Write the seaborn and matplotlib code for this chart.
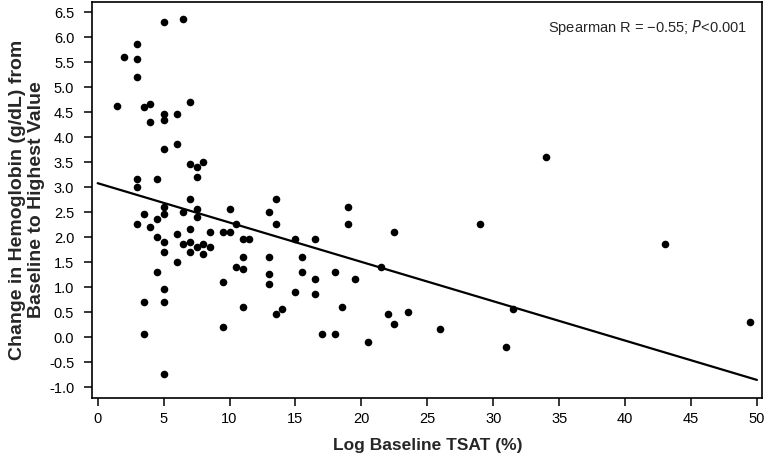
import numpy as np
import pandas as pd
import seaborn as sns
import matplotlib.pyplot as plt

# baseline TSAT (%)
tsat = [5.0, 6.5, 3.0, 2.0, 3.0, 3.0, 1.5, 3.5, 4.0, 7.0,
        5.0, 5.0, 6.0, 4.0, 5.0, 6.0, 7.0, 7.5, 8.0, 7.5,
        3.0, 3.0, 4.5, 7.0, 5.0, 3.5, 5.0, 6.5, 7.5, 7.5,
        3.0, 4.0, 4.5, 4.5, 5.0, 5.0, 6.0, 7.0, 8.5, 6.5,
        7.0, 7.0, 7.5, 8.0, 8.0, 8.5, 6.0, 4.5, 5.0, 3.5,
        5.0, 3.5, 5.0, 10.0, 9.5, 10.0, 10.5, 11.0, 11.5, 11.0,
        10.5, 11.0, 9.5, 11.0, 9.5, 13.0, 13.5, 13.5, 13.0, 13.0,
        13.0, 13.5, 14.0, 15.0, 15.5, 15.5, 15.0, 16.5, 16.5, 16.5,
        17.0, 18.0, 18.0, 18.5, 19.0, 19.0, 19.5, 20.5, 21.5, 22.5,
        22.0, 22.5, 23.5, 26.0, 29.0, 31.0, 31.5, 34.0, 43.0, 49.5]

# change in hemoglobin (g/dL)
hgb_change = [6.31, 6.37, 5.86, 5.61, 5.56, 5.21, 4.62, 4.61, 4.66, 4.71,
              4.46, 4.35, 4.46, 4.31, 3.76, 3.86, 3.46, 3.41, 3.51, 3.21,
              3.16, 3.01, 3.16, 2.77, 2.61, 2.46, 2.46, 2.51, 2.56, 2.41,
              2.26, 2.21, 2.36, 2.01, 1.91, 1.71, 2.06, 2.16, 2.11, 1.86,
              1.91, 1.71, 1.81, 1.86, 1.66, 1.81, 1.51, 1.31, 0.96, 0.71,
              0.71, 0.06, -0.74, 2.56, 2.11, 2.11, 2.26, 1.96, 1.96, 1.61,
              1.41, 1.36, 1.11, 0.61, 0.21, 2.51, 2.76, 2.26, 1.61, 1.26,
              1.06, 0.46, 0.56, 1.96, 1.61, 1.31, 0.91, 1.96, 1.16, 0.86,
              0.06, 1.31, 0.06, 0.61, 2.61, 2.26, 1.16, -0.09, 1.41, 2.11,
              0.46, 0.26, 0.51, 0.16, 2.26, -0.19, 0.56, 3.61, 1.86, 0.31]

# fitted line as drawn in the chart
fit_intercept = 3.08
fit_slope = -0.0787
fit_range = [0, 50]

x_ticks = np.arange(0, 51, 5)
y_ticks = np.arange(-1.0, 6.51, 0.5)

df = pd.DataFrame({"tsat": tsat, "hgb": hgb_change})
line_x = np.array(fit_range)
line_df = pd.DataFrame({"tsat": line_x, "hgb": fit_intercept + fit_slope * line_x})

sns.set_style("ticks")
plt.rcParams["font.family"] = ["Liberation Sans", "DejaVu Sans"]

fig = plt.figure(figsize=(7.67, 4.59), dpi=100)
ax = fig.add_axes([0.1203, 0.1336, 0.8738, 0.8627])

sns.scatterplot(data=df, x="tsat", y="hgb", color="black", s=30,
                edgecolor="black", linewidth=0, ax=ax)
sns.lineplot(data=line_df, x="tsat", y="hgb", color="black", linewidth=1.6, ax=ax)

ax.set_xlim(-0.41, 50.42)
ax.set_ylim(-1.21, 6.71)
ax.set_xticks(x_ticks)
ax.set_xticklabels([str(t) for t in x_ticks])
ax.set_yticks(y_ticks)
ax.set_yticklabels([f"{t:.1f}" for t in y_ticks])

for side in ["top", "right", "left", "bottom"]:
    ax.spines[side].set_visible(True)
    ax.spines[side].set_linewidth(1.2)
    ax.spines[side].set_color("black")
ax.tick_params(axis="both", direction="out", length=5.5, width=1.1,
               colors="black", labelsize=10.5)
ax.tick_params(axis="x", pad=4.5)
ax.tick_params(axis="y", pad=7.5)

ax.set_xlabel("Log Baseline TSAT (%)", fontsize=12.5, fontweight="bold",
              family=["Liberation Sans Narrow", "Liberation Sans"], labelpad=9)
ax.set_ylabel("Change in Hemoglobin (g/dL) from\nBaseline to Highest Value",
              fontsize=14, fontweight="bold", labelpad=3, linespacing=1.1)

ax.text(0.977, 0.936, "Spearman R = \u22120.55; $\\it{P}$<0.001",
        transform=ax.transAxes, ha="right", va="center", fontsize=10.5)

fig.savefig("out.png", dpi=100)
